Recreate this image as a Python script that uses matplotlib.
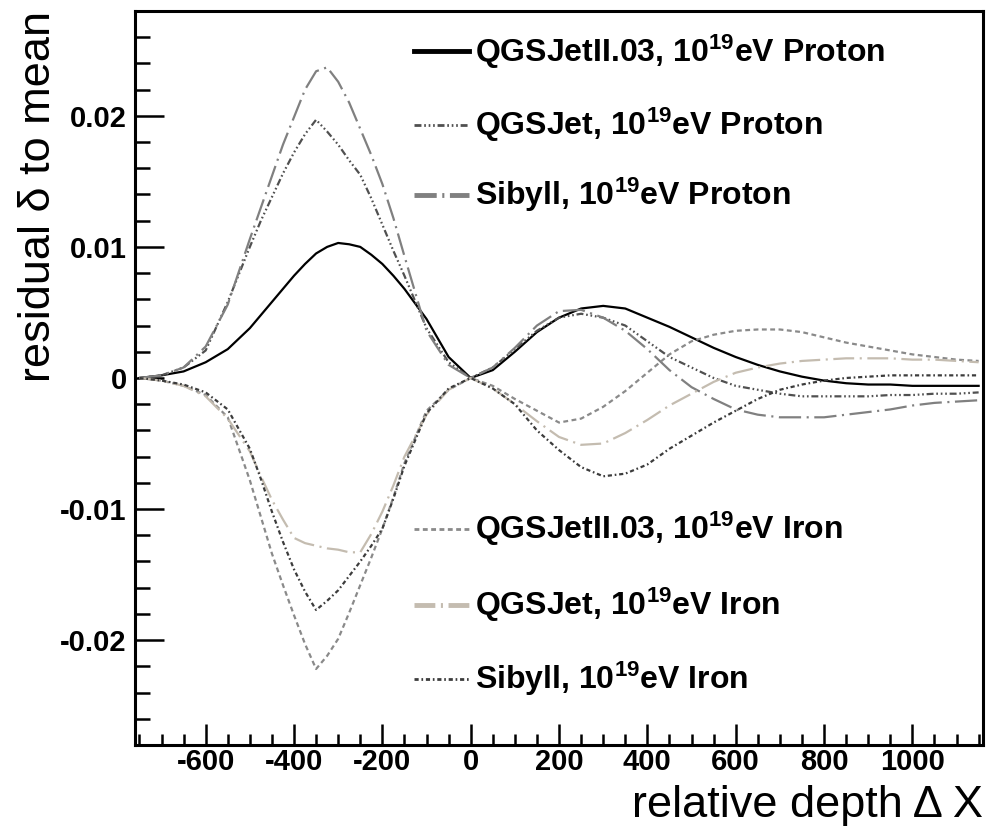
import matplotlib
matplotlib.use("Agg")
import matplotlib.pyplot as plt
from matplotlib.lines import Line2D
from matplotlib.ticker import MultipleLocator, FuncFormatter

plt.rcParams['font.family'] = ['Liberation Sans', 'DejaVu Sans']
plt.rcParams['axes.unicode_minus'] = False
plt.rcParams['lines.scale_dashes'] = False
plt.rcParams['mathtext.fontset'] = 'custom'
plt.rcParams['mathtext.rm'] = 'Liberation Sans:bold'
plt.rcParams['mathtext.bf'] = 'Liberation Sans:bold'
plt.rcParams['mathtext.default'] = 'rm'

# relative depth grid (g/cm^2), finer around the big peaks
depth = [-750, -700, -650, -600, -550, -500, -475, -450, -425, -400,
         -375, -350, -325, -300, -275, -250, -225, -200, -175, -150,
         -100, -50, 0, 50, 100, 150, 200, 250, 300, 350,
         400, 450, 500, 550, 600, 650, 700, 750, 800, 850,
         900, 950, 1000, 1050, 1100, 1150]

# residuals
qgsjet2_p = [0.0000, 0.0002, 0.0005, 0.0012, 0.0022, 0.0038, 0.0048, 0.0058, 0.0068, 0.0078,
             0.0087, 0.0095, 0.0100, 0.0103, 0.0102, 0.0100, 0.0094, 0.0087, 0.0078, 0.0068,
             0.0045, 0.0016, 0.0000, 0.0006, 0.0020, 0.0035, 0.0046, 0.0053, 0.0055, 0.0053,
             0.0046, 0.0039, 0.0031, 0.0023, 0.0016, 0.0010, 0.0005, 0.0001, -0.0002, -0.0004,
             -0.0005, -0.0005, -0.0006, -0.0006, -0.0006, -0.0006]
qgsjet_p = [0.0000, 0.0002, 0.0008, 0.0021, 0.0058, 0.0100, 0.0120, 0.0138, 0.0156, 0.0172,
            0.0186, 0.0197, 0.0188, 0.0178, 0.0166, 0.0155, 0.0137, 0.0117, 0.0097, 0.0078,
            0.0038, 0.0012, 0.0000, 0.0008, 0.0022, 0.0036, 0.0046, 0.0049, 0.0046, 0.0040,
            0.0028, 0.0016, 0.0008, 0.0000, -0.0006, -0.0009, -0.0012, -0.0014, -0.0014, -0.0014,
            -0.0014, -0.0013, -0.0013, -0.0012, -0.0012, -0.0011]
sibyll_p = [0.0000, 0.0002, 0.0008, 0.0024, 0.0056, 0.0106, 0.0130, 0.0154, 0.0178, 0.0199,
            0.0220, 0.0234, 0.0237, 0.0226, 0.0210, 0.0190, 0.0170, 0.0148, 0.0122, 0.0093,
            0.0036, 0.0010, 0.0000, 0.0008, 0.0023, 0.0040, 0.0051, 0.0052, 0.0046, 0.0036,
            0.0022, 0.0006, -0.0007, -0.0016, -0.0024, -0.0028, -0.0030, -0.0030, -0.0030, -0.0028,
            -0.0026, -0.0024, -0.0021, -0.0019, -0.0018, -0.0017]
qgsjet2_fe = [0.0000, -0.0002, -0.0006, -0.0013, -0.0030, -0.0078, -0.0106, -0.0134, -0.0158, -0.0181,
              -0.0203, -0.0222, -0.0212, -0.0199, -0.0179, -0.0158, -0.0137, -0.0115, -0.0091, -0.0065,
              -0.0025, -0.0009, 0.0000, -0.0006, -0.0016, -0.0025, -0.0034, -0.0031, -0.0022, -0.0010,
              0.0004, 0.0018, 0.0028, 0.0033, 0.0036, 0.0037, 0.0037, 0.0035, 0.0031, 0.0027,
              0.0024, 0.0021, 0.0018, 0.0016, 0.0014, 0.0013]
qgsjet_fe = [0.0000, -0.0002, -0.0006, -0.0014, -0.0031, -0.0056, -0.0075, -0.0093, -0.0108, -0.0122,
             -0.0126, -0.0128, -0.0130, -0.0131, -0.0133, -0.0133, -0.0119, -0.0102, -0.0082, -0.0060,
             -0.0028, -0.0009, 0.0000, -0.0008, -0.0020, -0.0033, -0.0045, -0.0051, -0.0050, -0.0042,
             -0.0032, -0.0021, -0.0012, -0.0003, 0.0004, 0.0008, 0.0011, 0.0013, 0.0014, 0.0015,
             0.0015, 0.0015, 0.0014, 0.0014, 0.0013, 0.0012]
sibyll_fe = [0.0000, -0.0002, -0.0005, -0.0011, -0.0024, -0.0054, -0.0077, -0.0102, -0.0125, -0.0146,
             -0.0163, -0.0177, -0.0170, -0.0162, -0.0151, -0.0140, -0.0128, -0.0115, -0.0092, -0.0067,
             -0.0027, -0.0008, 0.0000, -0.0008, -0.0020, -0.0040, -0.0055, -0.0068, -0.0075, -0.0073,
             -0.0066, -0.0054, -0.0044, -0.0034, -0.0025, -0.0016, -0.0009, -0.0005, -0.0002, 0.0000,
             0.0001, 0.0002, 0.0002, 0.0002, 0.0002, 0.0002]

labels = ['QGSJetII.03, 10$^{19}$eV Proton', 'QGSJet, 10$^{19}$eV Proton', 'Sibyll, 10$^{19}$eV Proton',
          'QGSJetII.03, 10$^{19}$eV Iron', 'QGSJet, 10$^{19}$eV Iron', 'Sibyll, 10$^{19}$eV Iron']
series = [qgsjet2_p, qgsjet_p, sibyll_p, qgsjet2_fe, qgsjet_fe, sibyll_fe]
colors = ['#000000', '#505050', '#808080', '#8a8a8a', '#c4bcb0', '#3c3c3c']
styles = ['-', (0, (5, 2, 1.2, 2, 1.2, 2, 1.2, 2)), (0, (16, 4, 1.5, 4)),
          (0, (3.5, 2.5)), (0, (15, 4, 1.5, 4)), (0, (3, 2, 1.2, 2))]
legend_lw = [3.5, 2.0, 3.5, 2.0, 3.5, 2.0]

fig = plt.figure(figsize=(10.03, 8.31), dpi=100)
ax = fig.add_axes([0.1346, 0.1035, 0.8455, 0.8833])

for vals, c, ls in zip(series, colors, styles):
    ax.plot(depth, vals, color=c, linestyle=ls, linewidth=1.6)

ax.set_xlim(-760, 1160)
ax.set_ylim(-0.028, 0.028)

ax.xaxis.set_major_locator(MultipleLocator(200))
ax.xaxis.set_minor_locator(MultipleLocator(50))
ax.yaxis.set_major_locator(MultipleLocator(0.01))
ax.yaxis.set_minor_locator(MultipleLocator(0.002))
ax.yaxis.set_major_formatter(FuncFormatter(lambda v, p: '0' if abs(v) < 1e-9 else '%g' % round(v, 4)))
ax.xaxis.set_major_formatter(FuncFormatter(lambda v, p: '%d' % v))

ax.tick_params(which='both', direction='in', top=False, right=False, width=1.8,
               labelsize=21)
ax.tick_params(axis='y', which='major', length=21, pad=6)
ax.tick_params(axis='y', which='minor', length=11)
ax.tick_params(axis='x', which='major', length=15, pad=2)
ax.tick_params(axis='x', which='minor', length=8)
for lab in ax.get_xticklabels() + ax.get_yticklabels():
    lab.set_fontweight('bold')
for sp in ax.spines.values():
    sp.set_linewidth(2.2)

ax.set_ylabel('residual δ to mean', fontsize=32.5, loc='top')
ax.yaxis.set_label_coords(-0.09, 1.0)
ax.set_xlabel('relative depth Δ X', fontsize=32.5, loc='right')
ax.xaxis.set_label_coords(1.0, -0.055)

# two legend blocks, drawn by hand (proton on top, iron below)
row_y = [0.9448, 0.8449, 0.7495, 0.2939, 0.1907, 0.0899]
for lab, c, ls, lw, yy in zip(labels, colors, styles, legend_lw, row_y):
    ax.add_line(Line2D([0.329, 0.394], [yy, yy], transform=ax.transAxes,
                       color=c, linestyle=ls, linewidth=lw))
    ax.text(0.401, yy, lab, transform=ax.transAxes, fontsize=23,
            fontweight='bold', va='center', ha='left')

fig.savefig('out.png', dpi=100)
